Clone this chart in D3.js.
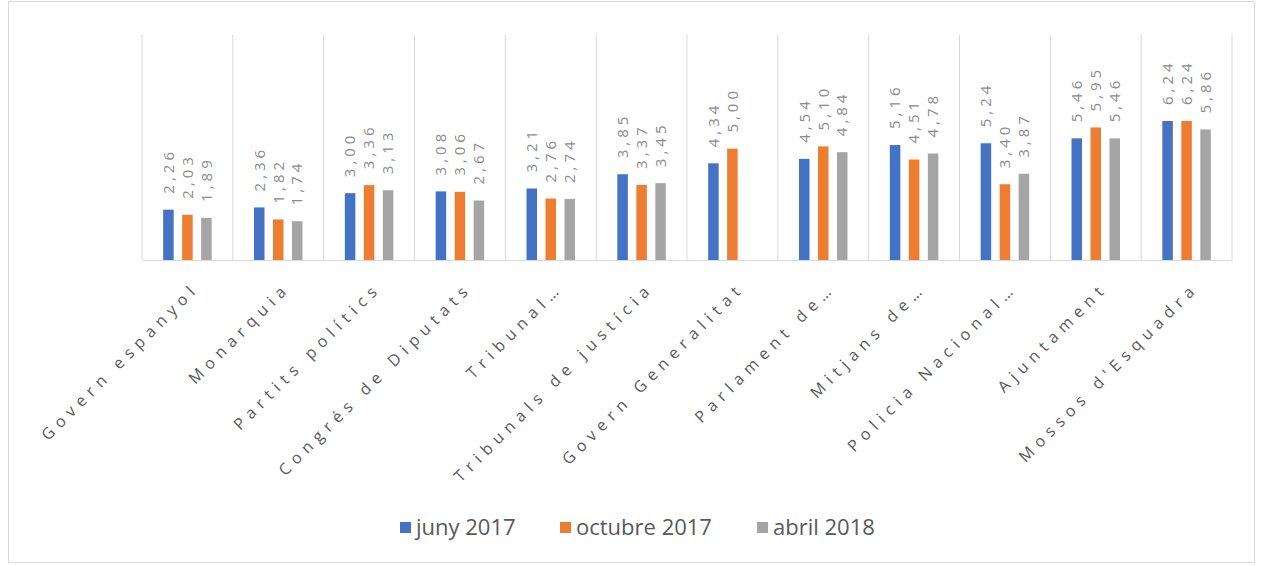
<!DOCTYPE html>
<html>
<head>
<meta charset="utf-8">
<script src="https://cdn.jsdelivr.net/npm/d3@7"></script>
<style>
  html, body { margin: 0; padding: 0; background: #fff; }
  svg { display: block; }
</style>
</head>
<body>
<svg id="chart" width="1263" height="566"></svg>
<script>
const categories = ["Govern espanyol", "Monarquia", "Partits polítics", "Congrés de Diputats", "Tribunal…", "Tribunals de justícia", "Govern Generalitat", "Parlament de…", "Mitjans de…", "Policia Nacional…", "Ajuntament", "Mossos d'Esquadra"];
const seriesNames = ["juny 2017", "octubre 2017", "abril 2018"];
const seriesColors = ["#4472C4", "#ED7D31", "#A5A5A5"];
const juny2017 = [2.26, 2.36, 3.00, 3.08, 3.21, 3.85, 4.34, 4.54, 5.16, 5.24, 5.46, 6.24];
const octubre2017 = [2.03, 1.82, 3.36, 3.06, 2.76, 3.37, 5.00, 5.10, 4.51, 3.40, 5.95, 6.24];
const abril2018 = [1.89, 1.74, 3.13, 2.67, 2.74, 3.45, null, 4.84, 4.78, 3.87, 5.46, 5.86];
const seriesValues = [juny2017, octubre2017, abril2018];

const svg = d3.select("#chart");

// outer frame
svg.append("rect").attr("x", 8.5).attr("y", 1.5).attr("width", 1246).attr("height", 561)
  .attr("fill", "#fff").attr("stroke", "#d9d9d9");

const x0 = d3.scaleBand().domain(categories).range([142, 1232]).padding(0);
const x1 = d3.scaleBand().domain(seriesNames).range([0, 48.5]).paddingInner(0.447).paddingOuter(0);
const y = d3.scaleLinear().domain([0, 10.1]).range([260, 35]);

// vertical gridlines at category boundaries
const bounds = categories.map(c => x0(c)).concat([x0.range()[1]]);
svg.append("g").selectAll("line").data(bounds).join("line")
  .attr("x1", d => d).attr("x2", d => d)
  .attr("y1", y.range()[1]).attr("y2", y.range()[0])
  .attr("stroke", "#d9d9d9").attr("stroke-width", 1);

// bars
const rows = [];
seriesNames.forEach((s, si) => {
  categories.forEach((c, ci) => {
    const v = seriesValues[si][ci];
    if (v !== null) rows.push({ s, si, c, v });
  });
});

const bx = d => x0(d.c) + x0.bandwidth() / 2 - 24.25 + x1(d.s);
svg.append("g").selectAll("rect").data(rows).join("rect")
  .attr("x", bx)
  .attr("y", d => y(d.v))
  .attr("width", x1.bandwidth())
  .attr("height", d => y(0) - y(d.v))
  .attr("fill", d => seriesColors[d.si]);

// baseline axis
const xAxis = d3.axisBottom(x0).tickSize(0).tickFormat("");
const axG = svg.append("g").attr("transform", `translate(0,${y(0)})`).call(xAxis);
axG.select(".domain").attr("stroke", "#d9d9d9");

// data labels rotated
svg.append("g").selectAll("text").data(rows).join("text")
  .attr("transform", d => `translate(${bx(d) + x1.bandwidth() / 2},${y(d.v) - 16}) rotate(-90)`)
  .attr("dy", "0.35em")
  .attr("text-anchor", "start")
  .attr("font-family", "'Open Sans', sans-serif")
  .attr("font-size", 15)
  .attr("letter-spacing", "4px")
  .attr("fill", "#8c8c8c")
  .text(d => d.v.toFixed(2).replace(".", ","));

// category labels rotated -45
svg.append("g").selectAll("text").data(categories).join("text")
  .attr("transform", c => `translate(${x0(c) + x0.bandwidth() / 2 + 5},${281}) rotate(-45)`)
  .attr("dy", "0.71em")
  .attr("text-anchor", "end")
  .attr("font-family", "'Open Sans', sans-serif")
  .attr("font-size", 16)
  .attr("letter-spacing", "6px")
  .attr("fill", "#595959")
  .text(c => c);

// legend
const legendX = [400, 560, 757];
const lg = svg.append("g").selectAll("g").data(seriesNames).join("g")
  .attr("transform", (d, i) => `translate(${legendX[i]},522)`);
lg.append("rect").attr("width", 11).attr("height", 11).attr("fill", (d, i) => seriesColors[i]);
lg.append("text").attr("x", 16).attr("y", 5.5).attr("dy", "0.35em")
  .attr("font-family", "'Open Sans', sans-serif").attr("font-size", 22)
  .attr("fill", "#595959").text(d => d);
</script>
</body>
</html>
